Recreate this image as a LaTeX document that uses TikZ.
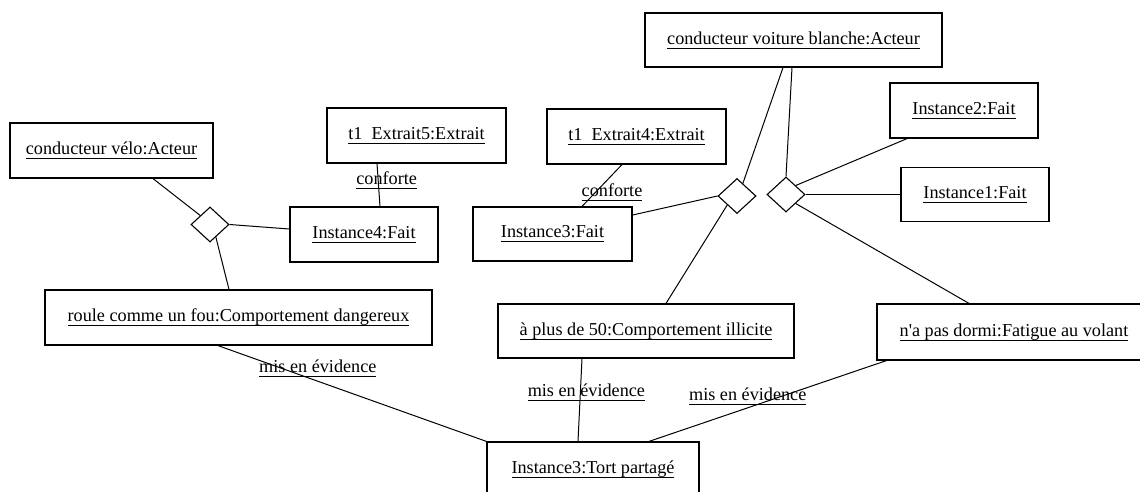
\documentclass[tikz,border=0pt]{standalone}
\usepackage{fontspec}
\newfontfamily\diafont{Liberation Serif}
\usetikzlibrary{shapes.geometric,calc}
\newsavebox\ulbox
\newcommand\ulx[1]{\sbox\ulbox{#1}\rlap{\rule[-4.6pt]{\wd\ulbox}{1pt}}\usebox\ulbox}
\tikzset{
  obj/.style={draw, line width=1.2pt, inner sep=0pt, font=\diafont\fontsize{18.2pt}{22pt}\selectfont},
  assoc/.style={diamond, draw, line width=1.1pt, minimum width=38pt, minimum height=35pt, inner sep=0pt},
  lbl/.style={inner sep=0pt, font=\diafont\fontsize{18.2pt}{22pt}\selectfont},
  link/.style={line width=1pt}
}
\begin{document}
\begin{tikzpicture}[x=1pt,y=-1pt]
\useasboundingbox (0,0) rectangle (1140,491);
\clip (0,0) rectangle (1140,491);
% objects
\node[obj, minimum width=203pt, minimum height=55pt] (velo) at (111.5,150.5) {\ulx{conducteur vélo:Acteur}};
\node[obj, minimum width=179pt, minimum height=55pt] (ext5) at (416.5,135.5) {\ulx{t1~~Extrait5:Extrait}};
\node[obj, minimum width=148pt, minimum height=55pt] (inst4) at (364,234.5) {\ulx{Instance4:Fait}};
\node[obj, minimum width=387pt, minimum height=55pt] (roule) at (238.5,317.5) {\ulx{roule comme un fou:Comportement dangereux}};
\node[obj, minimum width=297pt, minimum height=54pt] (voit) at (793.5,40) {\ulx{conducteur voiture blanche:Acteur}};
\node[obj, minimum width=179pt, minimum height=55pt] (ext4) at (636.5,136.5) {\ulx{t1~~Extrait4:Extrait}};
\node[obj, minimum width=159pt, minimum height=54pt] (inst3) at (552.5,234) {\ulx{Instance3:Fait}};
\node[obj, minimum width=148pt, minimum height=55pt] (inst2) at (964,110.5) {\ulx{Instance2:Fait}};
\node[obj, minimum width=148pt, minimum height=54pt] (inst1) at (975,194.5) {\ulx{Instance1:Fait}};
\node[obj, minimum width=296pt, minimum height=54pt] (aplus) at (646,331) {\ulx{à plus de 50:Comportement illicite}};
\node[obj, minimum width=274pt, minimum height=56pt] (fat) at (1014,332) {\ulx{n'a pas dormi:Fatigue au volant}};
\node[obj, minimum width=212pt, minimum height=55pt] (tort) at (593,469.5) {\ulx{Instance3:Tort partagé}};
% association diamonds
\node[assoc] (d1) at (210,224.5) {};
\node[assoc] (d2) at (737,196) {};
\node[assoc] (d3) at (786,194.5) {};
% connectors
\draw[link] ([xshift=41.5pt]velo.south) -- (d1.north west);
\draw[link] (d1.east) -- ([yshift=5.5pt]inst4.west);
\draw[link] ($(d1.south)!0.3!(d1.east)$) -- ([xshift=-9.5pt]roule.north);
\draw[link] ([xshift=-39.5pt]ext5.south) -- node[lbl, pos=0.4, xshift=8.5pt] {\ulx{conforte}} ([xshift=16pt]inst4.north);
\draw[link] ([xshift=-14.5pt]ext4.south) -- node[lbl, pos=0.674, xshift=17pt] {\ulx{conforte}} ([xshift=29.5pt]inst3.north);
\draw[link] ([xshift=-10.5pt]voit.south) -- ($(d2.north)!0.3!(d2.east)$);
\draw[link] ([xshift=-1.5pt]voit.south) -- (d3.north);
\draw[link] ([yshift=19pt]inst3.east) -- (d2.west);
\draw[link] (d2.south west) -- ([xshift=20pt]aplus.north);
\draw[link] (d3.north east) -- ([xshift=-57pt]inst2.south);
\draw[link] (d3.east) -- (inst1.west);
\draw[link] (d3.south east) -- ([xshift=-45pt]fat.north);
\draw[link] ([xshift=-20.5pt]roule.south) -- node[lbl, pos=0.372, yshift=13pt] {\ulx{mis en évidence}} (tort.north west);
\draw[link] ([xshift=-64pt]aplus.south) -- node[lbl, pos=0.405, xshift=6pt] {\ulx{mis en évidence}} ([xshift=-15pt]tort.north);
\draw[link] ([xshift=10pt]fat.south west) -- node[lbl, pos=0.584, yshift=11pt] {\ulx{mis en évidence}} ([xshift=56pt]tort.north);
\end{tikzpicture}
\end{document}
